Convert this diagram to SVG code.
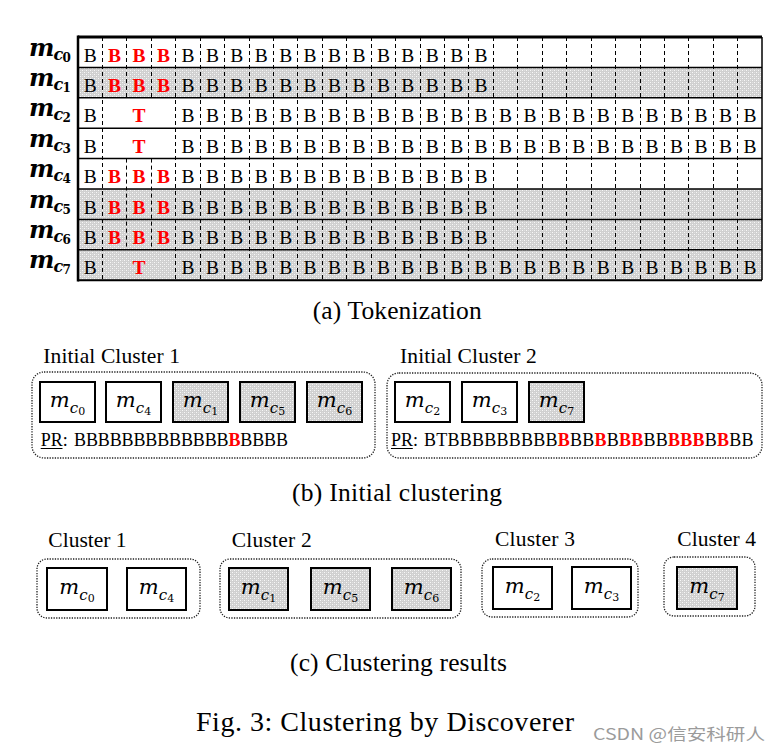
<svg xmlns="http://www.w3.org/2000/svg" width="780" height="753" viewBox="0 0 780 753">
<defs>
<pattern id="dots" patternUnits="userSpaceOnUse" width="4" height="4">
<rect width="4" height="4" fill="#d0d0d0"/>
<rect x="0" y="0" width="1" height="1" fill="#f8f8f8"/>
<rect x="2" y="2" width="1" height="1" fill="#f8f8f8"/>
<rect x="2" y="0" width="1" height="1" fill="#e0e0e0"/>
<rect x="0" y="2" width="1" height="1" fill="#e0e0e0"/>
</pattern>
</defs>
<style>
.cell{font-family:"Liberation Serif",serif;font-size:19.5px;text-anchor:middle;fill:#000}
.r{fill:#f00;font-weight:bold}
.lbl{font-family:"DejaVu Serif",serif;font-weight:bold;font-style:italic;fill:#000}
.mi{font-family:"DejaVu Serif",serif;font-style:italic;font-size:21px;text-anchor:middle;fill:#000}
.cap{font-family:"Liberation Serif",serif;font-size:25.5px;fill:#000}
.ttl{font-family:"Liberation Serif",serif;font-size:21.5px;fill:#000}
.pr{font-family:"Liberation Serif",serif;font-size:18px;fill:#000}
.box{stroke:#000;stroke-width:2;fill:#fff}
.shb{stroke:#000;stroke-width:2;fill:url(#dots)}
.cont{fill:none;stroke:#222;stroke-width:1.3;stroke-dasharray:1.3 1.3}
.dash{fill:none;stroke:#000;stroke-width:1;stroke-dasharray:4 3}
.hl{stroke:#000;stroke-width:1.5}
</style>

<g id="tokenization-table">
<rect x="78" y="67.4" width="684" height="30.4" fill="url(#dots)"/>
<rect x="78" y="189" width="684" height="91.2" fill="url(#dots)"/>
<path class="dash" d="M102.5 37V280 M175.5 37V280 M200.5 37V280 M224.5 37V280 M249.5 37V280 M273.5 37V280 M297.5 37V280 M322.5 37V280 M346.5 37V280 M371.5 37V280 M395.5 37V280 M420.5 37V280 M444.5 37V280 M468.5 37V280 M493.5 37V280 M517.5 37V280 M542.5 37V280 M566.5 37V280 M591.5 37V280 M615.5 37V280 M640.5 37V280 M664.5 37V280 M688.5 37V280 M713.5 37V280 M737.5 37V280 M126.5 37V97.8 M151.5 37V97.8 M126.5 158.6V249.8 M151.5 158.6V249.8"/>
<path class="hl" d="M78 67.4H762 M78 97.8H762 M78 128.2H762 M78 158.6H762 M78 189H762 M78 219.4H762 M78 249.8H762"/>
<path d="M78 37H762" stroke="#000" stroke-width="3"/>
<path d="M78 280.2H762" stroke="#000" stroke-width="2"/>
<path d="M78 35.5V281.5" stroke="#000" stroke-width="2.5"/>
<path d="M762 37V280" stroke="#000" stroke-width="1.5"/>

<text class="cell" y="61.5"><tspan x="90.2">B</tspan><tspan class="r" x="114.6 139.1 163.5">BBB</tspan><tspan x="187.9 212.4 236.8 261.2 285.7 310.1 334.5 358.9 383.4 407.8 432.2 456.7 481.1">BBBBBBBBBBBBB</tspan></text>
<text class="cell" y="91.9"><tspan x="90.2">B</tspan><tspan class="r" x="114.6 139.1 163.5">BBB</tspan><tspan x="187.9 212.4 236.8 261.2 285.7 310.1 334.5 358.9 383.4 407.8 432.2 456.7 481.1">BBBBBBBBBBBBB</tspan></text>
<text class="cell" y="122.3"><tspan x="90.2">B</tspan><tspan class="r" x="139.1">T</tspan><tspan x="187.9 212.4 236.8 261.2 285.7 310.1 334.5 358.9 383.4 407.8 432.2 456.7 481.1 505.5 530 554.4 578.8 603.2 627.7 652.1 676.5 701 725.4 750">BBBBBBBBBBBBBBBBBBBBBBBB</tspan></text>
<text class="cell" y="152.7"><tspan x="90.2">B</tspan><tspan class="r" x="139.1">T</tspan><tspan x="187.9 212.4 236.8 261.2 285.7 310.1 334.5 358.9 383.4 407.8 432.2 456.7 481.1 505.5 530 554.4 578.8 603.2 627.7 652.1 676.5 701 725.4 750">BBBBBBBBBBBBBBBBBBBBBBBB</tspan></text>
<text class="cell" y="183.1"><tspan x="90.2">B</tspan><tspan class="r" x="114.6 139.1 163.5">BBB</tspan><tspan x="187.9 212.4 236.8 261.2 285.7 310.1 334.5 358.9 383.4 407.8 432.2 456.7 481.1">BBBBBBBBBBBBB</tspan></text>
<text class="cell" y="213.5"><tspan x="90.2">B</tspan><tspan class="r" x="114.6 139.1 163.5">BBB</tspan><tspan x="187.9 212.4 236.8 261.2 285.7 310.1 334.5 358.9 383.4 407.8 432.2 456.7 481.1">BBBBBBBBBBBBB</tspan></text>
<text class="cell" y="243.9"><tspan x="90.2">B</tspan><tspan class="r" x="114.6 139.1 163.5">BBB</tspan><tspan x="187.9 212.4 236.8 261.2 285.7 310.1 334.5 358.9 383.4 407.8 432.2 456.7 481.1">BBBBBBBBBBBBB</tspan></text>
<text class="cell" y="274.3"><tspan x="90.2">B</tspan><tspan class="r" x="139.1">T</tspan><tspan x="187.9 212.4 236.8 261.2 285.7 310.1 334.5 358.9 383.4 407.8 432.2 456.7 481.1 505.5 530 554.4 578.8 603.2 627.7 652.1 676.5 701 725.4 750">BBBBBBBBBBBBBBBBBBBBBBBB</tspan></text>
</g>

<g id="row-labels" class="lbl">
<text x="29" y="55.5" font-size="24">m</text><text x="53.5" y="59.5" font-size="16">c</text><text x="62.5" y="61.5" font-size="12" font-style="normal">0</text>
<text x="29" y="85.9" font-size="24">m</text><text x="53.5" y="89.9" font-size="16">c</text><text x="62.5" y="91.9" font-size="12" font-style="normal">1</text>
<text x="29" y="116.3" font-size="24">m</text><text x="53.5" y="120.3" font-size="16">c</text><text x="62.5" y="122.3" font-size="12" font-style="normal">2</text>
<text x="29" y="146.7" font-size="24">m</text><text x="53.5" y="150.7" font-size="16">c</text><text x="62.5" y="152.7" font-size="12" font-style="normal">3</text>
<text x="29" y="177.1" font-size="24">m</text><text x="53.5" y="181.1" font-size="16">c</text><text x="62.5" y="183.1" font-size="12" font-style="normal">4</text>
<text x="29" y="207.5" font-size="24">m</text><text x="53.5" y="211.5" font-size="16">c</text><text x="62.5" y="213.5" font-size="12" font-style="normal">5</text>
<text x="29" y="237.9" font-size="24">m</text><text x="53.5" y="241.9" font-size="16">c</text><text x="62.5" y="243.9" font-size="12" font-style="normal">6</text>
<text x="29" y="268.3" font-size="24">m</text><text x="53.5" y="272.3" font-size="16">c</text><text x="62.5" y="274.3" font-size="12" font-style="normal">7</text>
</g>

<text class="cap" x="312.7" y="319" textLength="169" lengthAdjust="spacing">(a) Tokenization</text>

<g id="initial-cluster-1">
<text class="ttl" x="43.3" y="363" textLength="136.7" lengthAdjust="spacing">Initial Cluster 1</text>
<rect class="cont" x="32" y="372" width="343" height="86" rx="12"/>
<rect class="box" x="40" y="382" width="55" height="40"/>
<text class="mi" x="67.5" y="407">m<tspan font-size="15" dy="6">c</tspan><tspan font-size="11" font-style="normal" dy="2">0</tspan></text>
<rect class="box" x="106" y="382" width="55" height="40"/>
<text class="mi" x="133.5" y="407">m<tspan font-size="15" dy="6">c</tspan><tspan font-size="11" font-style="normal" dy="2">4</tspan></text>
<rect class="shb" x="173" y="382" width="55" height="40"/>
<text class="mi" x="200.5" y="407">m<tspan font-size="15" dy="6">c</tspan><tspan font-size="11" font-style="normal" dy="2">1</tspan></text>
<rect class="shb" x="240" y="382" width="55" height="40"/>
<text class="mi" x="267.5" y="407">m<tspan font-size="15" dy="6">c</tspan><tspan font-size="11" font-style="normal" dy="2">5</tspan></text>
<rect class="shb" x="307" y="382" width="55" height="40"/>
<text class="mi" x="334.5" y="407">m<tspan font-size="15" dy="6">c</tspan><tspan font-size="11" font-style="normal" dy="2">6</tspan></text>
<text class="pr" x="40.7" y="446">PR:</text>
<line x1="40.7" y1="448.5" x2="62.5" y2="448.5" stroke="#000" stroke-width="1"/>
<text class="pr" x="74" y="446" textLength="214" lengthAdjust="spacing">BBBBBBBBBBBBB<tspan class="r">B</tspan>BBBB</text>
</g>

<g id="initial-cluster-2">
<text class="ttl" x="400" y="363" textLength="136.7" lengthAdjust="spacing">Initial Cluster 2</text>
<rect class="cont" x="387" y="373" width="375" height="85" rx="12"/>
<rect class="box" x="395" y="382" width="55" height="40"/>
<text class="mi" x="422.5" y="407">m<tspan font-size="15" dy="6">c</tspan><tspan font-size="11" font-style="normal" dy="2">2</tspan></text>
<rect class="box" x="462" y="382" width="55" height="40"/>
<text class="mi" x="489.5" y="407">m<tspan font-size="15" dy="6">c</tspan><tspan font-size="11" font-style="normal" dy="2">3</tspan></text>
<rect class="shb" x="529" y="382" width="55" height="40"/>
<text class="mi" x="556.5" y="407">m<tspan font-size="15" dy="6">c</tspan><tspan font-size="11" font-style="normal" dy="2">7</tspan></text>
<text class="pr" x="391" y="446">PR:</text>
<line x1="391" y1="448.5" x2="412.8" y2="448.5" stroke="#000" stroke-width="1"/>
<text class="pr" x="424" y="446" textLength="329.5" lengthAdjust="spacing">BTBBBBBBBBB<tspan class="r">B</tspan>BB<tspan class="r">B</tspan>B<tspan class="r">BB</tspan>BB<tspan class="r">BBB</tspan>B<tspan class="r">B</tspan>BB</text>
</g>

<text class="cap" x="292" y="501" textLength="210" lengthAdjust="spacing">(b) Initial clustering</text>

<g id="cluster-1">
<text class="ttl" x="48.3" y="546.5" textLength="78.3" lengthAdjust="spacing">Cluster 1</text>
<rect class="cont" x="37" y="559" width="163" height="59" rx="10"/>
<rect class="box" x="47" y="568" width="60" height="42"/>
<text class="mi" x="77" y="594">m<tspan font-size="15" dy="6">c</tspan><tspan font-size="11" font-style="normal" dy="2">0</tspan></text>
<rect class="box" x="127" y="568" width="59" height="42"/>
<text class="mi" x="156.5" y="594">m<tspan font-size="15" dy="6">c</tspan><tspan font-size="11" font-style="normal" dy="2">4</tspan></text>
</g>

<g id="cluster-2">
<text class="ttl" x="231.7" y="546.5" textLength="80" lengthAdjust="spacing">Cluster 2</text>
<rect class="cont" x="220" y="559" width="241" height="59" rx="10"/>
<rect class="shb" x="229" y="568" width="59" height="42"/>
<text class="mi" x="258.5" y="594">m<tspan font-size="15" dy="6">c</tspan><tspan font-size="11" font-style="normal" dy="2">1</tspan></text>
<rect class="shb" x="311" y="568" width="59" height="42"/>
<text class="mi" x="340.5" y="594">m<tspan font-size="15" dy="6">c</tspan><tspan font-size="11" font-style="normal" dy="2">5</tspan></text>
<rect class="shb" x="392" y="568" width="59" height="42"/>
<text class="mi" x="421.5" y="594">m<tspan font-size="15" dy="6">c</tspan><tspan font-size="11" font-style="normal" dy="2">6</tspan></text>
</g>

<g id="cluster-3">
<text class="ttl" x="495" y="546" textLength="80" lengthAdjust="spacing">Cluster 3</text>
<rect class="cont" x="482" y="559" width="156" height="58" rx="10"/>
<rect class="box" x="493" y="567" width="59" height="42"/>
<text class="mi" x="522.5" y="593">m<tspan font-size="15" dy="6">c</tspan><tspan font-size="11" font-style="normal" dy="2">2</tspan></text>
<rect class="box" x="572" y="567" width="59" height="42"/>
<text class="mi" x="601.5" y="593">m<tspan font-size="15" dy="6">c</tspan><tspan font-size="11" font-style="normal" dy="2">3</tspan></text>
</g>

<g id="cluster-4">
<text class="ttl" x="677.3" y="546" textLength="78.7" lengthAdjust="spacing">Cluster 4</text>
<rect class="cont" x="664" y="557" width="91" height="59" rx="10"/>
<rect class="shb" x="677" y="567" width="60" height="42"/>
<text class="mi" x="707" y="593">m<tspan font-size="15" dy="6">c</tspan><tspan font-size="11" font-style="normal" dy="2">7</tspan></text>
</g>

<text class="cap" x="290" y="671" textLength="217" lengthAdjust="spacing">(c) Clustering results</text>
<text class="cap" x="196" y="731" style="font-size:28px" textLength="378" lengthAdjust="spacing">Fig. 3: Clustering by Discoverer</text>
<text x="593" y="740" font-family="'Noto Sans CJK SC', sans-serif" font-size="16" fill="#9b9b9b" textLength="172" lengthAdjust="spacingAndGlyphs">CSDN @信安科研人</text>
</svg>
